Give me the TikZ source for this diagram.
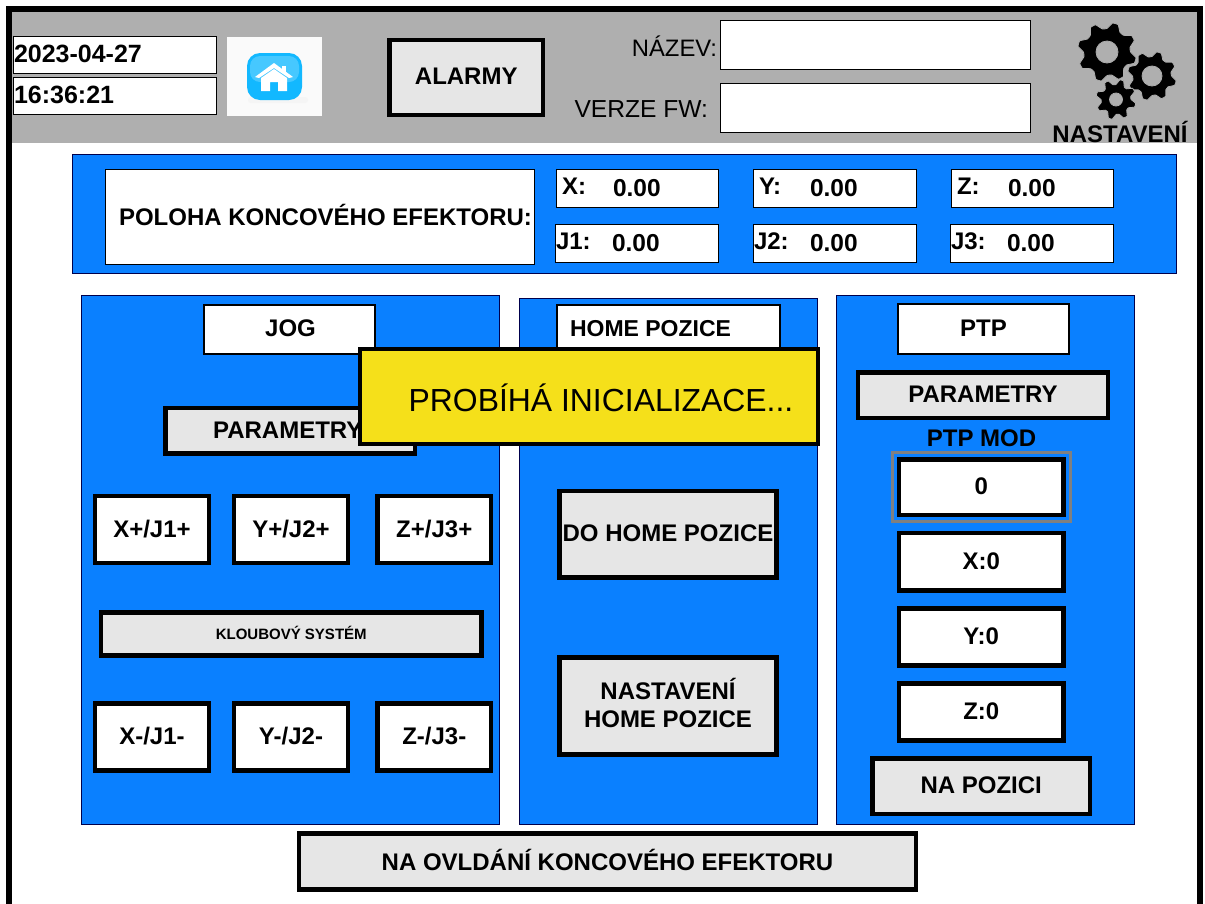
\documentclass[tikz,border=0pt]{standalone}
\usepackage{fontspec}
\setmainfont{Liberation Sans}
\definecolor{hdr}{HTML}{AFAFAF}
\definecolor{pblue}{HTML}{0A80FF}
\definecolor{btn}{HTML}{E6E6E6}
\definecolor{popup}{HTML}{F5E01A}
\definecolor{icon}{HTML}{12B8FF}
\newcommand{\fs}[1]{\fontsize{#1}{#1}\selectfont}
% \bx[style]{x1}{y1}{x2}{y2}{text}
\newcommand{\bx}[6][]{\node[#1,minimum width={(#4-#2)*1pt},minimum height={(#5-#3)*1pt}] (b#3n#2) at ({(#2+#4)/2},{(#3+#5)/2}) {#6};}
\newcommand{\gearshape}[6]{% cx cy router rinner rhole teeth
  \fill[black,draw=hdr,line width=0.8pt,even odd rule]
    plot[smooth cycle,tension=0.2,domain=0:4*#6-1,samples=4*#6,variable=\k]
      ({#1+(mod(round(\k),4)<2?#3:#4)*cos(\k*90/#6+11)},{#2+(mod(round(\k),4)<2?#3:#4)*sin(\k*90/#6+11)})
    (#1+#5,#2) arc[start angle=0,end angle=360,radius=#5];}
\tikzset{
  x=1pt,y=-1pt,
  every node/.style={inner sep=0pt,outer sep=0pt,align=center,text=black},
  panel/.style={draw=black!70!blue,line width=0.8pt,fill=pblue},
  thinbox/.style={draw=black,line width=1.2pt,fill=white,font=\bfseries\fs{24},text depth=2pt},
  coord/.style={draw=black,line width=1pt,fill=white},
  wbtn/.style={draw=black,line width=4.5pt,fill=white,font=\bfseries\fs{24},text depth=2pt},
  gbtn/.style={draw=black,line width=4.5pt,fill=btn,font=\bfseries\fs{24},text depth=2pt},
  lab/.style={anchor=base west,font=\bfseries\fs{24}},
  val/.style={anchor=base west,font=\bfseries\fs{24.5}},
}
\begin{document}
\begin{tikzpicture}
\useasboundingbox (0,0) rectangle (1205,903);
\fill[white] (0,0) rectangle (1205,903);
\fill[hdr] (9,9) rectangle (1200,143);
\draw[black,line width=6pt] (9,910) -- (9,9) -- (1200,9) -- (1200,910);
% header
\bx[coord]{13.5}{36.5}{216.5}{73}{}
\bx[coord]{13.5}{77.5}{216.5}{114}{}
\node[lab,font=\bfseries\fs{25}] (date) at (14,62) {2023-04-27};
\node[lab,font=\bfseries\fs{25}] (time) at (14,103) {16:36:21};
\fill[white!98!black] (227,37) rectangle (322,116);
\fill[black!4,rounded corners=3pt] (248,97) rectangle (308,103);
\fill[icon,rounded corners=13pt] (247,53) rectangle (302,100);
\fill[white!22!icon,rounded corners=10pt] (250,56) rectangle (299,82);
\fill[white] (255,77) -- (274,63) -- (293,77) -- (289,78) -- (274,68) -- (259,78) -- cycle;
\fill[white] (261,78) -- (274,69) -- (287,78) -- (287,91) -- (278,91) -- (278,82) -- (270,82) -- (270,91) -- (261,91) -- cycle;
\fill[white] (282,66) rectangle (286,73);
\bx[gbtn]{389.5}{40}{543}{115}{\bfseries\fs{24}ALARMY}
\node[anchor=base east,font=\fs{23.8}] (nazev) at (717,56) {NÁZEV:};
\node[anchor=base east,font=\fs{24.6}] (verze) at (708,117) {VERZE FW:};
\bx[coord]{720.5}{20.5}{1030.5}{69}{}
\bx[coord]{720.5}{83.5}{1030.5}{132}{}
\gearshape{1107}{52}{29.5}{23.5}{11}{8}
\gearshape{1152}{76}{24.5}{19.5}{10}{8}
\gearshape{1116}{99.5}{20}{15}{6.5}{8}
\node[font=\bfseries\fs{24}] (nast) at (1120,132) {NASTAVENÍ};
% position band
\bx[panel]{72.5}{154.5}{1176.5}{273}{}
\bx[coord]{105.5}{169.5}{534.5}{264}{}
\node[font=\bfseries\fs{24}] (pol) at (325.5,215) {POLOHA KONCOVÉHO EFEKTORU:};
\foreach \a/\b/\l in {556/719/X:,753/917/Y:,951/1114/Z:}{
  \bx[coord]{\a}{169.5}{\b-0.5}{207}{}
  \node[lab] at (\a+6,194) {\l};
  \node[val] at (\a+57,196) {0.00};
}
\foreach \a/\b/\l in {555/719/J1:,753/917/J2:,950/1114/J3:}{
  \bx[coord]{\a}{224.5}{\b-0.5}{262}{}
  \node[lab] at (\a+1,249) {\l};
  \node[val] at (\a+57,251) {0.00};
}
% panels
\bx[panel]{81.5}{295.5}{499.5}{824}{}
\bx[panel]{519.5}{298.5}{817.5}{824}{}
\bx[panel]{836.5}{295.5}{1134.5}{824}{}
\bx[thinbox]{204}{305}{375}{354}{\hspace*{2pt}JOG}
\bx[thinbox]{557}{305}{780}{354}{\hspace*{-36pt}\fs{23}HOME POZICE}
\bx[thinbox]{898}{304}{1069}{354}{PTP}
% JOG
\bx[gbtn]{165.5}{408}{415}{453.5}{\hspace*{-5pt}PARAMETRY}
\bx[wbtn]{95}{496}{209}{563}{X+/J1+}
\bx[wbtn]{234}{496}{348}{563}{Y+/J2+}
\bx[wbtn]{377.5}{496}{491}{563}{Z+/J3+}
\bx[gbtn]{101}{612.5}{481.5}{655.5}{\fs{15}KLOUBOVÝ SYSTÉM}
\bx[wbtn]{95}{703.5}{209}{770.5}{X-/J1-}
\bx[wbtn]{234}{703.5}{348}{770.5}{Y-/J2-}
\bx[wbtn]{377.5}{703.5}{491}{770.5}{Z-/J3-}
% HOME
\bx[gbtn]{559.5}{491}{776.5}{577.5}{DO HOME POZICE}
\bx[gbtn,text depth=6pt]{559.5}{657.5}{776.5}{754.5}{NASTAVENÍ\\[4pt]HOME POZICE}
% PTP
\bx[gbtn]{858}{372.5}{1108}{418}{PARAMETRY}
\node[font=\bfseries\fs{24}] (ptpmod) at (981.5,438) {PTP MOD};
\bx[draw=black!50,line width=3pt]{892.5}{452.5}{1070}{521.5}{}
\bx[wbtn]{899}{459.5}{1063.5}{515}{0}
\bx[wbtn]{899}{533}{1063.5}{590.5}{X:0}
\bx[wbtn]{899}{608.5}{1063.5}{665.5}{Y:0}
\bx[wbtn]{899}{683.5}{1063.5}{740.5}{Z:0}
\bx[gbtn]{872.5}{758.5}{1090}{814}{NA POZICI}
% bottom
\bx[gbtn,text depth=4pt]{299}{833.5}{916}{889.5}{NA OVLDÁNÍ KONCOVÉHO EFEKTORU}
% popup
\bx[draw=black,line width=3.5pt,fill=popup]{360}{349}{818}{444}{}
\node[font=\fs{31.9}] (msg) at (601,398) {PROBÍHÁ INICIALIZACE...};
\end{tikzpicture}
\end{document}
